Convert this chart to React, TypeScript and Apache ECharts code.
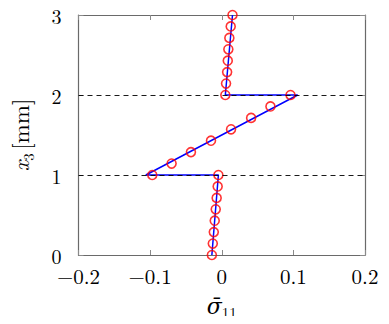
import React, { useEffect, useRef } from "react";
import * as echarts from "echarts";

// Numerical solution (red circles): [sigma11, x3]
const markerX = [
  -0.0138, -0.0125, -0.0111, -0.0098, -0.0084, -0.0071, -0.0057, -0.0047,
  -0.097, -0.07, -0.043, -0.015, 0.013, 0.041, 0.068, 0.096,
  0.005, 0.006, 0.0075, 0.0084, 0.0092, 0.0106, 0.0125, 0.015,
];
const markerY = [
  0, 0.143, 0.286, 0.429, 0.571, 0.714, 0.857, 1,
  1, 1.143, 1.286, 1.429, 1.571, 1.714, 1.857, 2,
  2, 2.143, 2.286, 2.429, 2.571, 2.714, 2.857, 3,
];
// Analytical solution (blue line)
const lineX = [-0.0138, -0.0047, -0.106, 0.106, 0.005, 0.015];
const lineY = [0, 1, 1, 2, 2, 3];
const xTicks = [-0.2, -0.1, 0, 0.1, 0.2];
const yTicks = [0, 1, 2, 3];
const dashedLevels = [1, 2];

const FONT = "'Latin Modern Roman', 'DejaVu Serif', 'Liberation Serif', serif";

export default function App() {
  const ref = useRef<HTMLDivElement>(null);
  useEffect(() => {
    if (!ref.current) return;
    const chart = echarts.init(ref.current, null, { renderer: "svg" });
    const fmt = (v: number) => {
      const r = Math.round(v * 10) / 10;
      if (r === 0) return "0";
      return (r < 0 ? "\u2212" : "") + Math.abs(r).toString();
    };
    const axisLine = { show: true, onZero: false, lineStyle: { color: "#6a6a6a", width: 1.2 } };
    const tick = { show: true, inside: true, length: 5, lineStyle: { color: "#8a8a8a", width: 1 } };
    chart.setOption({
      animation: false,
      backgroundColor: "#ffffff",
      grid: { left: 70, right: 24, top: 15, bottom: 67, containLabel: false },
      xAxis: [
        {
          type: "value",
          position: "bottom",
          min: xTicks[0],
          max: xTicks[xTicks.length - 1],
          interval: 0.1,
          axisLine,
          axisTick: tick,
          splitLine: { show: false },
          axisLabel: {
            formatter: fmt,
            color: "#000",
            fontFamily: FONT,
            fontSize: 21,
            lineHeight: 17,
            margin: 11,
          },
          name: "{i|σ\u0304}{s|11}",
          nameLocation: "middle",
          nameGap: 34,
          nameTextStyle: {
            rich: {
              i: { fontFamily: FONT, fontStyle: "italic", fontSize: 22, lineHeight: 30, color: "#000" },
              s: { fontFamily: FONT, fontSize: 15, lineHeight: 22, verticalAlign: "bottom", color: "#000" },
            },
          },
        },
        {
          type: "value",
          position: "top",
          min: xTicks[0],
          max: xTicks[xTicks.length - 1],
          interval: 0.1,
          axisLine,
          axisTick: tick,
          splitLine: { show: false },
          axisLabel: { show: false },
        },
      ],
      yAxis: [
        {
          type: "value",
          position: "left",
          min: yTicks[0],
          max: yTicks[yTicks.length - 1],
          interval: 1,
          axisLine,
          axisTick: tick,
          splitLine: { show: false },
          axisLabel: {
            color: "#000",
            fontFamily: FONT,
            fontSize: 20,
            lineHeight: 14,
            margin: 17,
          },
          name: "{i|x}{s|3} {n|[mm]}",
          nameLocation: "middle",
          nameGap: 44,
          nameRotate: 90,
          nameTextStyle: {
            rich: {
              i: { fontFamily: FONT, fontStyle: "italic", fontSize: 23, lineHeight: 30, color: "#000" },
              s: { fontFamily: FONT, fontSize: 15, lineHeight: 22, verticalAlign: "bottom", color: "#000" },
              n: { fontFamily: FONT, fontSize: 23, lineHeight: 30, color: "#000" },
            },
          },
        },
        {
          type: "value",
          position: "right",
          min: yTicks[0],
          max: yTicks[yTicks.length - 1],
          interval: 1,
          axisLine,
          axisTick: tick,
          splitLine: { show: false },
          axisLabel: { show: false },
        },
      ],
      series: [
        {
          type: "line",
          data: lineX.map((x, i) => [x, lineY[i]]),
          showSymbol: false,
          symbol: "none",
          lineStyle: { color: "#0000ff", width: 1.5 },
          z: 3,
          markLine: {
            silent: true,
            symbol: "none",
            label: { show: false },
            lineStyle: { color: "#000", type: [5, 4], width: 0.9 },
            data: dashedLevels.map((v) => ({ yAxis: v })),
          },
        },
        {
          type: "scatter",
          data: markerX.map((x, i) => [x, markerY[i]]),
          symbol: "circle",
          symbolSize: 9,
          itemStyle: { color: "transparent", borderColor: "#ff0000", borderWidth: 1.6 },
          z: 4,
        },
      ],
    });
    return () => chart.dispose();
  }, []);
  return <div ref={ref} style={{ width: 389, height: 324, margin: -8 }} />;
}
